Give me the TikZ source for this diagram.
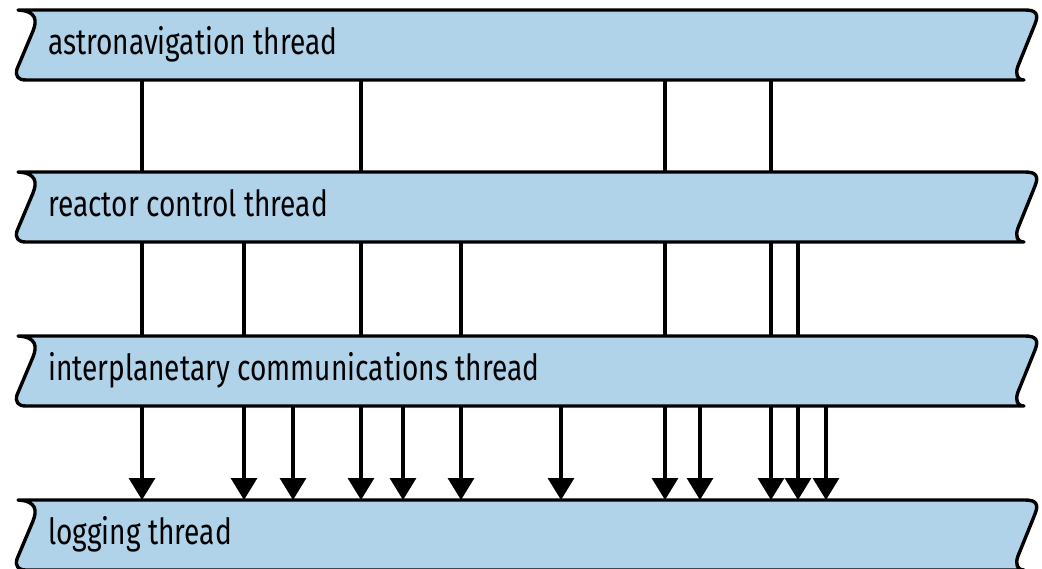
\documentclass[tikz,border=0pt]{standalone}
\usepackage{fontspec}
\setmainfont{Fira Sans}[FakeStretch=0.78]
\usepackage{tikz}
\usetikzlibrary{arrows.meta,positioning,backgrounds}

\definecolor{bandblue}{RGB}{176,211,234}

\tikzset{
    thread/.style={minimum width=1012pt, minimum height=70pt, inner sep=0pt, outer sep=0pt},
    thread label/.style={anchor=base west, inner sep=0pt, font=\fontsize{36}{40}\selectfont},
    band line/.style={line width=3.4pt, line join=round, fill=bandblue},
    wire/.style={line width=3.2pt},
    msg/.style={line width=3.2pt, -{Triangle[width=26pt,length=22pt]}}
}

% ribbon outline with torn left and right edges
\newcommand{\threadband}[1]{%
  \begin{scope}[on background layer, shift={(#1.north west)}]
    \draw[band line] (0,0) -- (1007,0) .. controls (1018,0) and (1021,4) .. (1017,14)
      -- (1000,56) .. controls (997,64) and (999,70) .. (1006,70) -- (8,70)
      .. controls (0,70) and (-3,66) .. (-1,59) -- (15,21)
      .. controls (19,11) and (19,1) .. (0,0) -- cycle;
  \end{scope}}

\begin{document}
\begin{tikzpicture}[x=1pt, y=-1pt]
    \clip (0,0) rectangle (1042,568);

    % Threads
    \node[thread] (astro) at (524,45) {};
    \node[thread, below=92pt of astro] (reactor) {};
    \node[thread, below=94pt of reactor] (comms) {};
    \node[thread, below=94pt of comms] (logging) {};
    \threadband{astro}
    \threadband{reactor}
    \threadband{comms}
    \threadband{logging}

    % Labels
    \node[thread label] (astrolabel) at ([xshift=30pt, yshift=-9pt]astro.west) {astronavigation thread};
    \node[thread label] (reactorlabel) at ([xshift=30pt, yshift=-9pt]reactor.west) {reactor control thread};
    \node[thread label] (commslabel) at ([xshift=30pt, yshift=-9pt]comms.west) {interplanetary communications thread};
    \node[thread label] (logginglabel) at ([xshift=30pt, yshift=-9pt]logging.west) {logging thread};

    % astronavigation -> reactor control
    \draw[wire] ([xshift=124pt]astro.south west) -- ([xshift=124pt]reactor.north west);
    \draw[wire] ([xshift=343pt]astro.south west) -- ([xshift=343pt]reactor.north west);
    \draw[wire] ([xshift=647pt]astro.south west) -- ([xshift=647pt]reactor.north west);
    \draw[wire] ([xshift=753pt]astro.south west) -- ([xshift=753pt]reactor.north west);

    % reactor control -> communications
    \draw[wire] ([xshift=124pt]reactor.south west) -- ([xshift=124pt]comms.north west);
    \draw[wire] ([xshift=226pt]reactor.south west) -- ([xshift=226pt]comms.north west);
    \draw[wire] ([xshift=343pt]reactor.south west) -- ([xshift=343pt]comms.north west);
    \draw[wire] ([xshift=443pt]reactor.south west) -- ([xshift=443pt]comms.north west);
    \draw[wire] ([xshift=647pt]reactor.south west) -- ([xshift=647pt]comms.north west);
    \draw[wire] ([xshift=753pt]reactor.south west) -- ([xshift=753pt]comms.north west);
    \draw[wire] ([xshift=780pt]reactor.south west) -- ([xshift=780pt]comms.north west);

    % communications -> logging
    \draw[msg] ([xshift=124pt]comms.south west) -- ([xshift=124pt]logging.north west);
    \draw[msg] ([xshift=226pt]comms.south west) -- ([xshift=226pt]logging.north west);
    \draw[msg] ([xshift=275pt]comms.south west) -- ([xshift=275pt]logging.north west);
    \draw[msg] ([xshift=343pt]comms.south west) -- ([xshift=343pt]logging.north west);
    \draw[msg] ([xshift=385pt]comms.south west) -- ([xshift=385pt]logging.north west);
    \draw[msg] ([xshift=443pt]comms.south west) -- ([xshift=443pt]logging.north west);
    \draw[msg] ([xshift=543pt]comms.south west) -- ([xshift=543pt]logging.north west);
    \draw[msg] ([xshift=647pt]comms.south west) -- ([xshift=647pt]logging.north west);
    \draw[msg] ([xshift=682pt]comms.south west) -- ([xshift=682pt]logging.north west);
    \draw[msg] ([xshift=753pt]comms.south west) -- ([xshift=753pt]logging.north west);
    \draw[msg] ([xshift=780pt]comms.south west) -- ([xshift=780pt]logging.north west);
    \draw[msg] ([xshift=808pt]comms.south west) -- ([xshift=808pt]logging.north west);
\end{tikzpicture}
\end{document}
